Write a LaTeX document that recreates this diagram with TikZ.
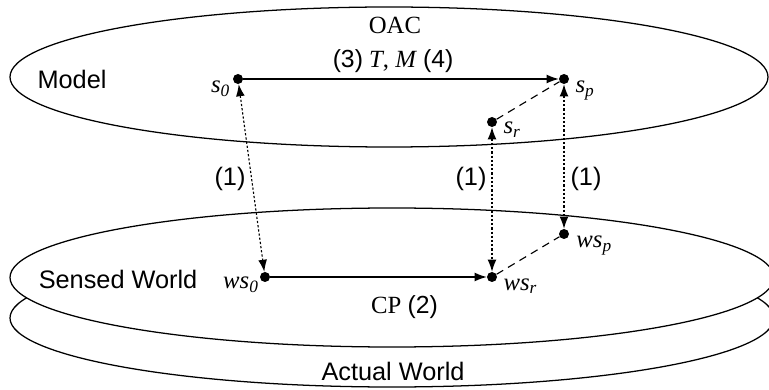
\documentclass[tikz,border=0pt]{standalone}
\usepackage{fontspec}
\setmainfont{Liberation Serif}
\setsansfont{Liberation Sans}
\usetikzlibrary{arrows.meta,positioning}
\tikzset{
  world layer/.style={draw=black, line width=0.9pt, fill=white},
  layer name/.style={font=\sffamily\fontsize{18}{21}\selectfont, inner sep=0pt},
  state dot/.style={circle, fill=black, inner sep=0pt, minimum size=0.25cm},
  state name/.style={font=\fontsize{17.6}{20}\selectfont\itshape, inner sep=0pt},
  step label/.style={font=\fontsize{17.6}{20}\selectfont, inner sep=0pt},
  plan arrow/.style={-{Latex[length=0.3cm,width=0.22cm]}, line width=0.8pt},
  sense arrow/.style={{Latex[length=0.3cm,width=0.22cm]}-{Latex[length=0.3cm,width=0.22cm]},
    line width=0.8pt, dash pattern=on 1.6pt off 1.4pt},
  drift line/.style={line width=0.8pt, dash pattern=on 5.5pt off 4pt}
}

\begin{document}
\begin{tikzpicture}
    \useasboundingbox (0,0) rectangle (19.225,9.725);
    % the three layers
    \draw[world layer] (9.8,1.775) ellipse (9.55cm and 1.725cm);
    \draw[world layer] (9.8,2.7875) ellipse (9.55cm and 1.7375cm);
    \draw[world layer] (9.725,7.8) ellipse (9.475cm and 1.75cm);
    \node[layer name] (model) at (1.8,7.74) {Model};
    \node[layer name] (sensed) at (2.95,2.74) {Sensed World};
    \node[layer name] (actual) at (9.825,0.45) {Actual World};
    \node[step label] (oac) at (9.875,9.1) {OAC};
    % states
    \node[state dot] (s0) at (5.95,7.75) {};
    \node[state dot] (sp) at (14.1,7.75) {};
    \node[state dot] (sr) at (12.3,6.675) {};
    \node[state dot] (ws0) at (6.625,2.8) {};
    \node[state dot] (wsr) at (12.3,2.8) {};
    \node[state dot] (wsp) at (14.1,3.875) {};
    \node[state name, anchor=north east] (s0name) at ([xshift=-0.06cm,yshift=-0.05cm]s0.west) {s\textsubscript{0}};
    \node[state name, anchor=north west] (spname) at ([xshift=0.15cm,yshift=-0.05cm]sp.east) {s\textsubscript{p}};
    \node[state name, anchor=north west] (srname) at ([xshift=0.15cm]sr.east) {s\textsubscript{r}};
    \node[state name, anchor=north east] (ws0name) at ([xshift=-0.02cm]ws0.west) {ws\textsubscript{0}};
    \node[state name, anchor=north west] (wsrname) at ([xshift=0.15cm,yshift=-0.03cm]wsr.east) {ws\textsubscript{r}};
    \node[state name, anchor=north west] (wspname) at ([xshift=0.17cm,yshift=-0.05cm]wsp.east) {ws\textsubscript{p}};
    % transitions
    \draw[plan arrow] (s0) -- node[step label, pos=0.475, above=0.15cm] (tmlab)
      {{\sffamily(3)} \textit{T}, \textit{M} {\sffamily(4)}} (sp);
    \draw[plan arrow] (ws0) -- node[step label, pos=0.62, below=0.45cm] (cplab)
      {CP {\sffamily(2)}} (wsr);
    \draw[drift line] (sr) -- (sp);
    \draw[drift line] (wsr) -- (wsp);
    \draw[sense arrow] (s0) -- (ws0);
    \draw[sense arrow] (sr) -- (wsr);
    \draw[sense arrow] (sp) -- (wsp);
    \node[layer name] (sense0) at (5.75,5.25) {(1)};
    \node[layer name] (senser) at (11.775,5.25) {(1)};
    \node[layer name] (sensep) at (14.65,5.25) {(1)};
\end{tikzpicture}
\end{document}
